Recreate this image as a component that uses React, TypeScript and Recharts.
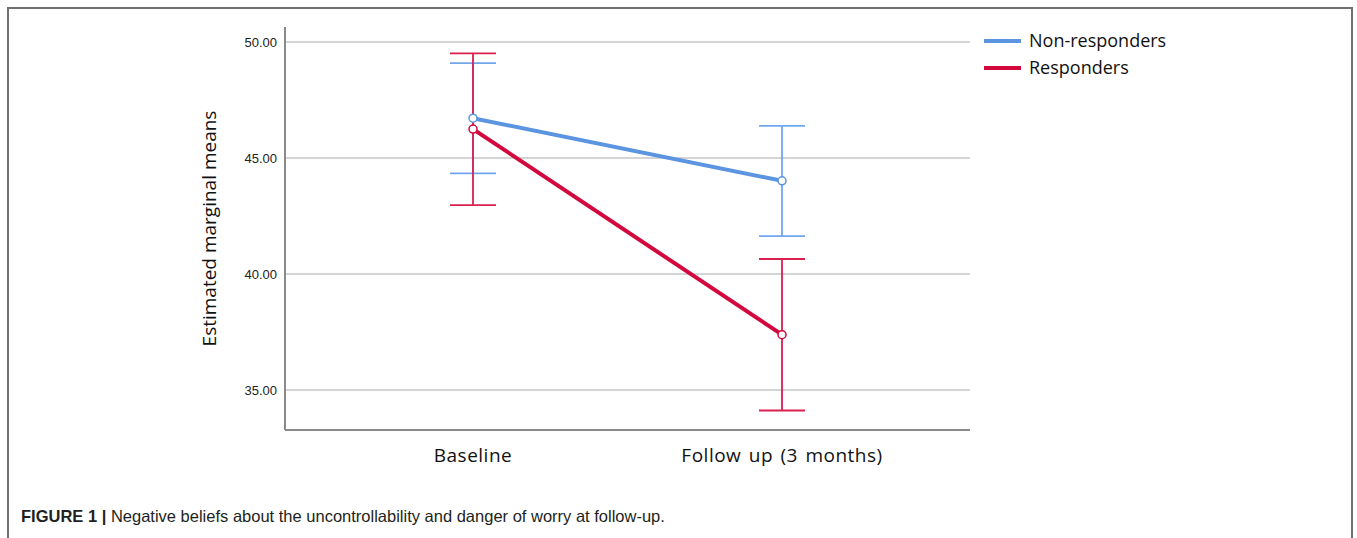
import React from 'react';
import { LineChart, Line, XAxis, YAxis, CartesianGrid, ErrorBar, Label } from 'recharts';

const categories = ['Baseline', 'Follow up (3 months)'];
const nonResponders = [46.72, 44.02];
const nonRespLower = [44.34, 41.64];
const nonRespUpper = [49.09, 46.39];
const responders = [46.25, 37.39];
const respLower = [42.97, 34.12];
const respUpper = [49.51, 40.65];
const yTicks = [35, 40, 45, 50];

const BLUE = '#5b94e0';
const BLUE_ERR = '#70a6ec';
const RED = '#d3083d';
const RED_ERR = '#d9204f';

const data = categories.map((c, i) => ({
  name: c,
  nr: nonResponders[i],
  nrErr: [nonResponders[i] - nonRespLower[i], nonRespUpper[i] - nonResponders[i]],
  r: responders[i],
  rErr: [responders[i] - respLower[i], respUpper[i] - responders[i]],
}));

const series = [
  { name: 'Non-responders', color: BLUE },
  { name: 'Responders', color: RED },
];

const labelFont = '"Open Sans", "Noto Sans", sans-serif';

const YLabel = (props: any) => {
  const vb = props.viewBox || {};
  const cy = vb.y + vb.height / 2;
  const x = 216;
  return (
    <text
      x={x}
      y={cy}
      transform={`rotate(-90, ${x}, ${cy})`}
      textAnchor="middle"
      fontFamily={labelFont}
      fontSize={19}
      fill="#111"
    >
      Estimated marginal means
    </text>
  );
};

export default function App() {
  return (
    <div style={{ position: 'relative', width: 1357, height: 538, background: '#fff', overflow: 'hidden' }}>
      <style>{'body{margin:0;}'}</style>
      <div
        style={{
          position: 'absolute',
          left: 7,
          top: 7,
          width: 1346,
          height: 560,
          border: '2px solid #707070',
          boxSizing: 'border-box',
        }}
      />
      <div style={{ position: 'absolute', left: 0, top: 0 }}>
        <LineChart
          width={1357}
          height={538}
          data={data}
          margin={{ top: 27, right: 387, bottom: 68, left: 0 }}
        >
          <CartesianGrid horizontal vertical={false} stroke="#c6c6c6" strokeWidth={1.5} syncWithTicks />
          <XAxis
            dataKey="name"
            height={40}
            padding={{ left: 188, right: 188 }}
            axisLine={{ stroke: '#8a8a8a', strokeWidth: 2 }}
            tickLine={false}
            tickMargin={13}
            tick={{ fontFamily: labelFont, fontSize: 19, fill: '#111', letterSpacing: 0.5, wordSpacing: 2 }}
          />
          <YAxis
            width={285}
            type="number"
            domain={[33.28, 50.65]}
            allowDataOverflow
            ticks={yTicks}
            tickFormatter={(v: number) => v.toFixed(2)}
            axisLine={{ stroke: '#8a8a8a', strokeWidth: 2 }}
            tickLine={false}
            tickMargin={2}
            tick={{ fontFamily: '"Liberation Sans", Arial, sans-serif', fontSize: 13, fill: '#222' }}
          >
            <Label content={<YLabel />} />
          </YAxis>
          <Line
            dataKey="nr"
            stroke={BLUE}
            strokeWidth={4}
            isAnimationActive={false}
            dot={{ r: 4, fill: '#fff', stroke: BLUE, strokeWidth: 1.5 }}
          >
            <ErrorBar dataKey="nrErr" direction="y" width={23} stroke={BLUE_ERR} strokeWidth={1.8} />
          </Line>
          <Line
            dataKey="r"
            stroke={RED}
            strokeWidth={4}
            isAnimationActive={false}
            dot={{ r: 4, fill: '#fff', stroke: RED, strokeWidth: 1.5 }}
          >
            <ErrorBar dataKey="rErr" direction="y" width={23} stroke={RED_ERR} strokeWidth={1.8} />
          </Line>
        </LineChart>
      </div>
      <div style={{ position: 'absolute', left: 984, top: 27 }}>
        {series.map((s) => (
          <div key={s.name} style={{ display: 'flex', alignItems: 'center', height: 27 }}>
            <div style={{ width: 37, height: 4, background: s.color, marginRight: 8 }} />
            <span style={{ fontFamily: labelFont, fontSize: 18, color: '#111', lineHeight: '27px' }}>{s.name}</span>
          </div>
        ))}
      </div>
      <div
        style={{
          position: 'absolute',
          left: 21,
          top: 506,
          fontFamily: '"Liberation Sans", Arial, sans-serif',
          fontSize: 16.5,
          lineHeight: '20px',
          color: '#231f20',
          whiteSpace: 'nowrap',
        }}
      >
        <span style={{ fontWeight: 'bold' }}>FIGURE 1 | </span>
        Negative beliefs about the uncontrollability and danger of worry at follow-up.
      </div>
    </div>
  );
}
